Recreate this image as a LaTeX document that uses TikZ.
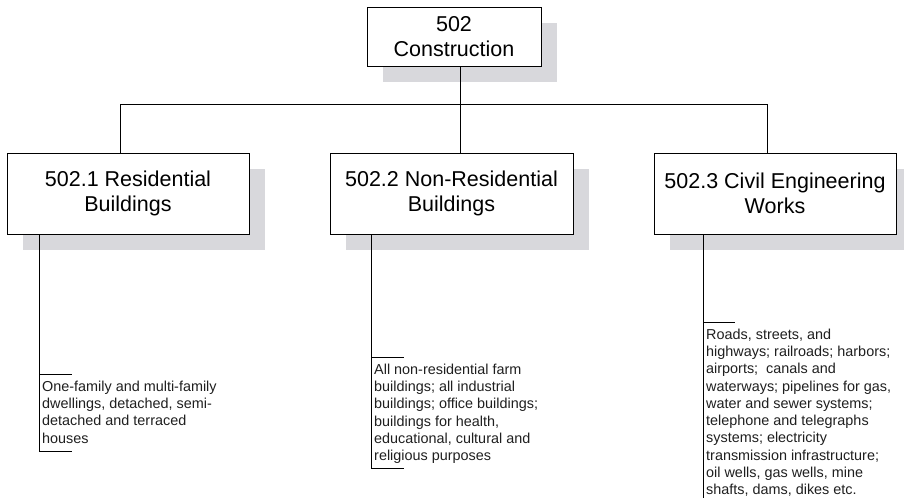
\documentclass[tikz,border=0pt]{standalone}
\usepackage{fontspec}
\setmainfont{Liberation Sans}
\usetikzlibrary{shadows}
\definecolor{shadowc}{RGB}{216,216,220}
\begin{document}
\begin{tikzpicture}[x=1pt,y=-1pt,
  catbox/.style={draw=black, line width=1pt, fill=white, align=center, inner sep=0pt,
    minimum height=81pt, font=\fontsize{21.5}{25}\selectfont,
    drop shadow={shadow xshift=16pt, shadow yshift=-16pt, fill=shadowc, draw=none, opacity=1}},
  leaftext/.style={anchor=north west, inner sep=0pt, align=left,
    font=\fontsize{14.4}{17.3}\selectfont, text=black!88},
  conn/.style={draw=black, line width=0.9pt}]
\useasboundingbox (0,0) rectangle (904,498);

\node[catbox, minimum width=174pt, minimum height=59pt] (top) at (454,36.5) {502\\Construction};
\node[catbox, minimum width=242pt] (b1) at (128,193.5) {502.1 Residential\\Buildings};
\node[catbox, minimum width=243pt] (b2) at (451.5,193.5) {502.2 Non-Residential\\Buildings};
\node[catbox, minimum width=242pt] (b3) at (775,193.5) {502.3 Civil Engineering\\Works};

\coordinate (j) at (460,104);
\coordinate (h1) at (120,104);
\coordinate (h3) at (767,104);
\draw[conn] (top.south -| j) -- (j);
\draw[conn] (b1.north -| h1) -- (h1) -- (h3) -- (b3.north -| h3);
\draw[conn] (j) -- (b2.north -| j);

% leaf 1
\coordinate (l1t) at (39,374);
\coordinate (l1b) at (39,451);
\node[leaftext] (l1) at (42,380.5) {One-family and multi-family\\dwellings, detached, semi-\\detached and terraced\\houses};
\draw[conn] (b1.south -| l1t) -- (l1b) -- ++(33,0);
\draw[conn] (l1t) -- ++(33,0);

% leaf 2
\coordinate (l2t) at (371,357);
\coordinate (l2b) at (371,468);
\node[leaftext] (l2) at (374,363.5) {All non-residential farm\\buildings; all industrial\\buildings; office buildings;\\buildings for health,\\educational, cultural and\\religious purposes};
\draw[conn] (b2.south -| l2t) -- (l2b) -- ++(33,0);
\draw[conn] (l2t) -- ++(33,0);

% leaf 3
\coordinate (l3t) at (703,322);
\coordinate (l3b) at (703,498);
\node[leaftext] (l3) at (706,328.5) {Roads, streets, and\\highways; railroads; harbors;\\airports; \ canals and\\waterways; pipelines for gas,\\water and sewer systems;\\telephone and telegraphs\\systems; electricity\\transmission infrastructure;\\oil wells, gas wells, mine\\shafts, dams, dikes etc.};
\draw[conn] (b3.south -| l3t) -- (l3b);
\draw[conn] (l3t) -- ++(32,0);
\end{tikzpicture}
\end{document}
